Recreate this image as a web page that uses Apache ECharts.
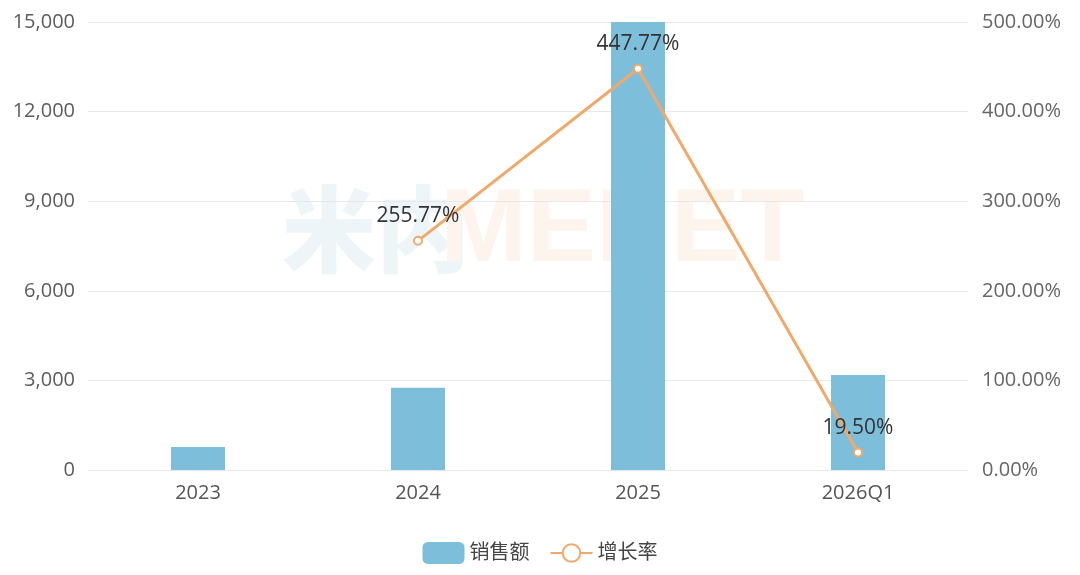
<!DOCTYPE html>
<html><head><meta charset="utf-8">
<script src="https://cdn.jsdelivr.net/npm/echarts@6/dist/echarts.min.js"></script>
<style>html,body{margin:0;padding:0;background:#fff}#c{width:1080px;height:575px}</style>
</head><body><div id="c"></div>
<script>
const categories = ['2023', '2024', '2025', '2026Q1'];
const sales = [770, 2750, 15064, 3180];
const growth = [null, 255.77, 447.77, 19.50];
const leftTicks = { min: 0, max: 15000, interval: 3000 };
const rightTicks = { min: 0, max: 500, interval: 100 };

const font = '"Open Sans", "Noto Sans CJK SC", sans-serif';
const chart = echarts.init(document.getElementById('c'));
chart.setOption({
  animation: false,
  textStyle: { fontFamily: font },
  graphic: [
    { type: 'text', left: 282, top: 182, z: 0, style: { text: '米内', fontSize: 94, fontWeight: 900, fill: '#eef5f8', fontFamily: '"Noto Sans CJK SC", sans-serif' } },
    { type: 'text', left: 440, top: 180, z: 0, style: { text: 'MENET', fontSize: 104, fontWeight: 'bold', fill: '#fdf4ee', fontFamily: '"Liberation Sans", Arial, sans-serif' } }
  ],
  grid: { left: 88, right: 112, top: 22, bottom: 105, containLabel: false },
  legend: {
    bottom: 6, left: 'center', itemWidth: 42, itemHeight: 22, itemGap: 20,
    textStyle: { fontSize: 20, color: '#444', fontFamily: font },
    data: [
      { name: '销售额', icon: 'roundRect' },
      { name: '增长率' }
    ]
  },
  xAxis: {
    type: 'category', data: categories,
    axisLine: { show: false }, axisTick: { show: false },
    axisLabel: { fontSize: 20, color: '#555', margin: 13 }
  },
  yAxis: [
    {
      type: 'value', min: leftTicks.min, max: leftTicks.max, interval: leftTicks.interval,
      axisLabel: { fontSize: 20, color: '#5c5c5c', margin: 13, formatter: v => v.toLocaleString('en-US') },
      splitLine: { lineStyle: { color: '#e8e8e8', width: 1 } },
      axisLine: { show: false }, axisTick: { show: false }
    },
    {
      type: 'value', min: rightTicks.min, max: rightTicks.max, interval: rightTicks.interval,
      axisLabel: { fontSize: 20, color: '#666', margin: 14, formatter: v => v.toFixed(2) + '%' },
      splitLine: { show: false },
      axisLine: { show: false }, axisTick: { show: false }
    }
  ],
  series: [
    {
      name: '销售额', type: 'bar', data: sales, barWidth: 54, clip: true,
      itemStyle: { color: '#7dbedb' }
    },
    {
      name: '增长率', type: 'line', yAxisIndex: 1, data: growth,
      connectNulls: false,
      lineStyle: { color: '#f0a96c', width: 3 },
      itemStyle: { color: '#f0a96c', borderColor: '#f0a96c', borderWidth: 2.5 },
      symbol: 'emptyCircle', symbolSize: 8,
      label: {
        show: true, position: 'top', distance: 9, fontSize: 21, color: '#333',
        formatter: p => p.value == null ? '' : p.value.toFixed(2) + '%'
      }
    }
  ]
});
</script></body></html>
